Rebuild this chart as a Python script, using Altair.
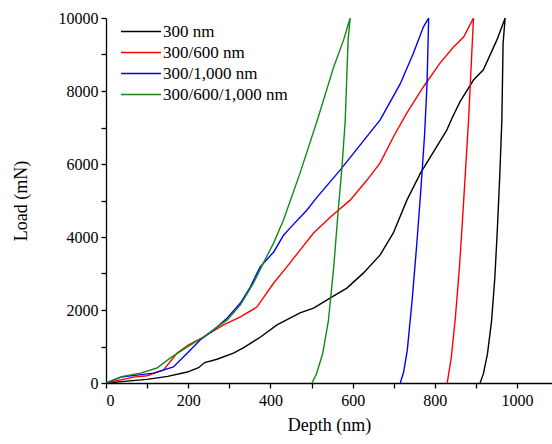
import altair as alt
import pandas as pd

series_names = ["300 nm", "300/600 nm", "300/1,000 nm", "300/600/1,000 nm"]
series_colors = ["#000000", "#ff0000", "#0000ff", "#138a13"]

black_depth = [0, 50, 100, 150, 198, 225, 240, 270, 310, 334, 376, 416, 472, 505, 546, 586, 626, 667, 699, 732, 765, 789, 829, 842, 861, 894, 918, 951, 971, 966, 963, 958, 952, 946, 938, 928, 918, 910]
black_load = [0, 50, 100, 180, 300, 420, 560, 650, 820, 960, 1260, 1590, 1920, 2050, 2330, 2600, 3010, 3510, 4110, 5010, 5750, 6190, 6930, 7260, 7700, 8300, 8580, 9400, 10000, 9300, 7200, 5700, 4200, 2900, 1700, 800, 250, 0]

red_depth = [0, 67, 100, 140, 173, 200, 237, 286, 327, 367, 408, 440, 472, 505, 546, 594, 635, 667, 699, 732, 772, 813, 845, 870, 894, 891, 882, 875, 868, 860, 850, 840, 830]
red_load = [0, 160, 200, 360, 820, 1040, 1260, 1590, 1810, 2080, 2740, 3180, 3640, 4110, 4550, 5010, 5560, 6030, 6740, 7400, 8110, 8770, 9200, 9480, 10000, 9300, 7200, 5900, 4600, 3200, 1800, 700, 0]

blue_depth = [0, 35, 116, 164, 198, 229, 262, 295, 327, 351, 375, 408, 432, 448, 489, 514, 570, 667, 716, 748, 772, 785, 781, 775, 766, 756, 745, 733, 724, 716]
blue_load = [0, 160, 270, 440, 820, 1180, 1450, 1780, 2190, 2630, 3180, 3590, 4050, 4250, 4740, 5100, 5840, 7210, 8200, 9040, 9750, 10000, 8200, 6800, 5300, 3800, 2300, 900, 300, 0]

green_depth = [0, 43, 84, 124, 156, 198, 237, 270, 295, 327, 359, 383, 408, 432, 472, 514, 554, 578, 594, 589, 582, 574, 565, 554, 541, 527, 512, 501]
green_load = [0, 190, 270, 410, 680, 990, 1260, 1530, 1730, 2140, 2740, 3290, 3840, 4470, 5750, 7200, 8660, 9400, 10000, 9400, 7200, 5900, 4740, 3180, 1700, 800, 250, 0]

x_ticks = list(range(0, 1001, 100))
y_ticks = list(range(0, 10001, 1000))

rows = []
for name, d, l in zip(series_names,
                      [black_depth, red_depth, blue_depth, green_depth],
                      [black_load, red_load, blue_load, green_load]):
    for i, (dv, lv) in enumerate(zip(d, l)):
        rows.append({"series": name, "idx": i, "depth": dv, "load": lv})
df = pd.DataFrame(rows)

font = "Liberation Serif"

chart = alt.Chart(df).mark_line(strokeWidth=1.4, clip=True).encode(
    x=alt.X("depth:Q", scale=alt.Scale(domain=[0, 1085], nice=False, zero=False),
            axis=alt.Axis(title="Depth (nm)", values=x_ticks,
                          labelExpr="datum.value % 200 == 0 ? datum.label : ''",
                          format="d", labelPadding=4, titlePadding=8)),
    y=alt.Y("load:Q", scale=alt.Scale(domain=[0, 10000], nice=False),
            axis=alt.Axis(title="Load (mN)", values=y_ticks,
                          labelExpr="datum.value % 2000 == 0 ? datum.label : ''",
                          format="d", labelPadding=3, titlePadding=28)),
    color=alt.Color("series:N", scale=alt.Scale(domain=series_names, range=series_colors),
                    legend=alt.Legend(title=None, orient="none", legendX=14, legendY=4,
                                      symbolType="stroke", symbolSize=1600,
                                      symbolStrokeWidth=1.4, labelFont=font,
                                      labelFontSize=17, labelColor="black",
                                      labelOffset=1, clipHeight=19, rowPadding=2)),
    order="idx:Q",
    detail="series:N",
).properties(
    width=446, height=365,
    padding={"left": 106, "top": 18, "right": 0, "bottom": 61},
    autosize=alt.AutoSizeParams(type="none"),
    background="white",
).configure_view(stroke=None).configure_axis(
    grid=False, domainColor="black", domainWidth=1.3, tickColor="black", tickWidth=1.3,
    tickSize=5, labelFont=font, labelFontSize=16, labelColor="black",
    titleFont=font, titleFontSize=18, titleFontWeight="normal", titleColor="black",
)

chart.save("out.html", embed_options={"renderer": "svg", "actions": False})
